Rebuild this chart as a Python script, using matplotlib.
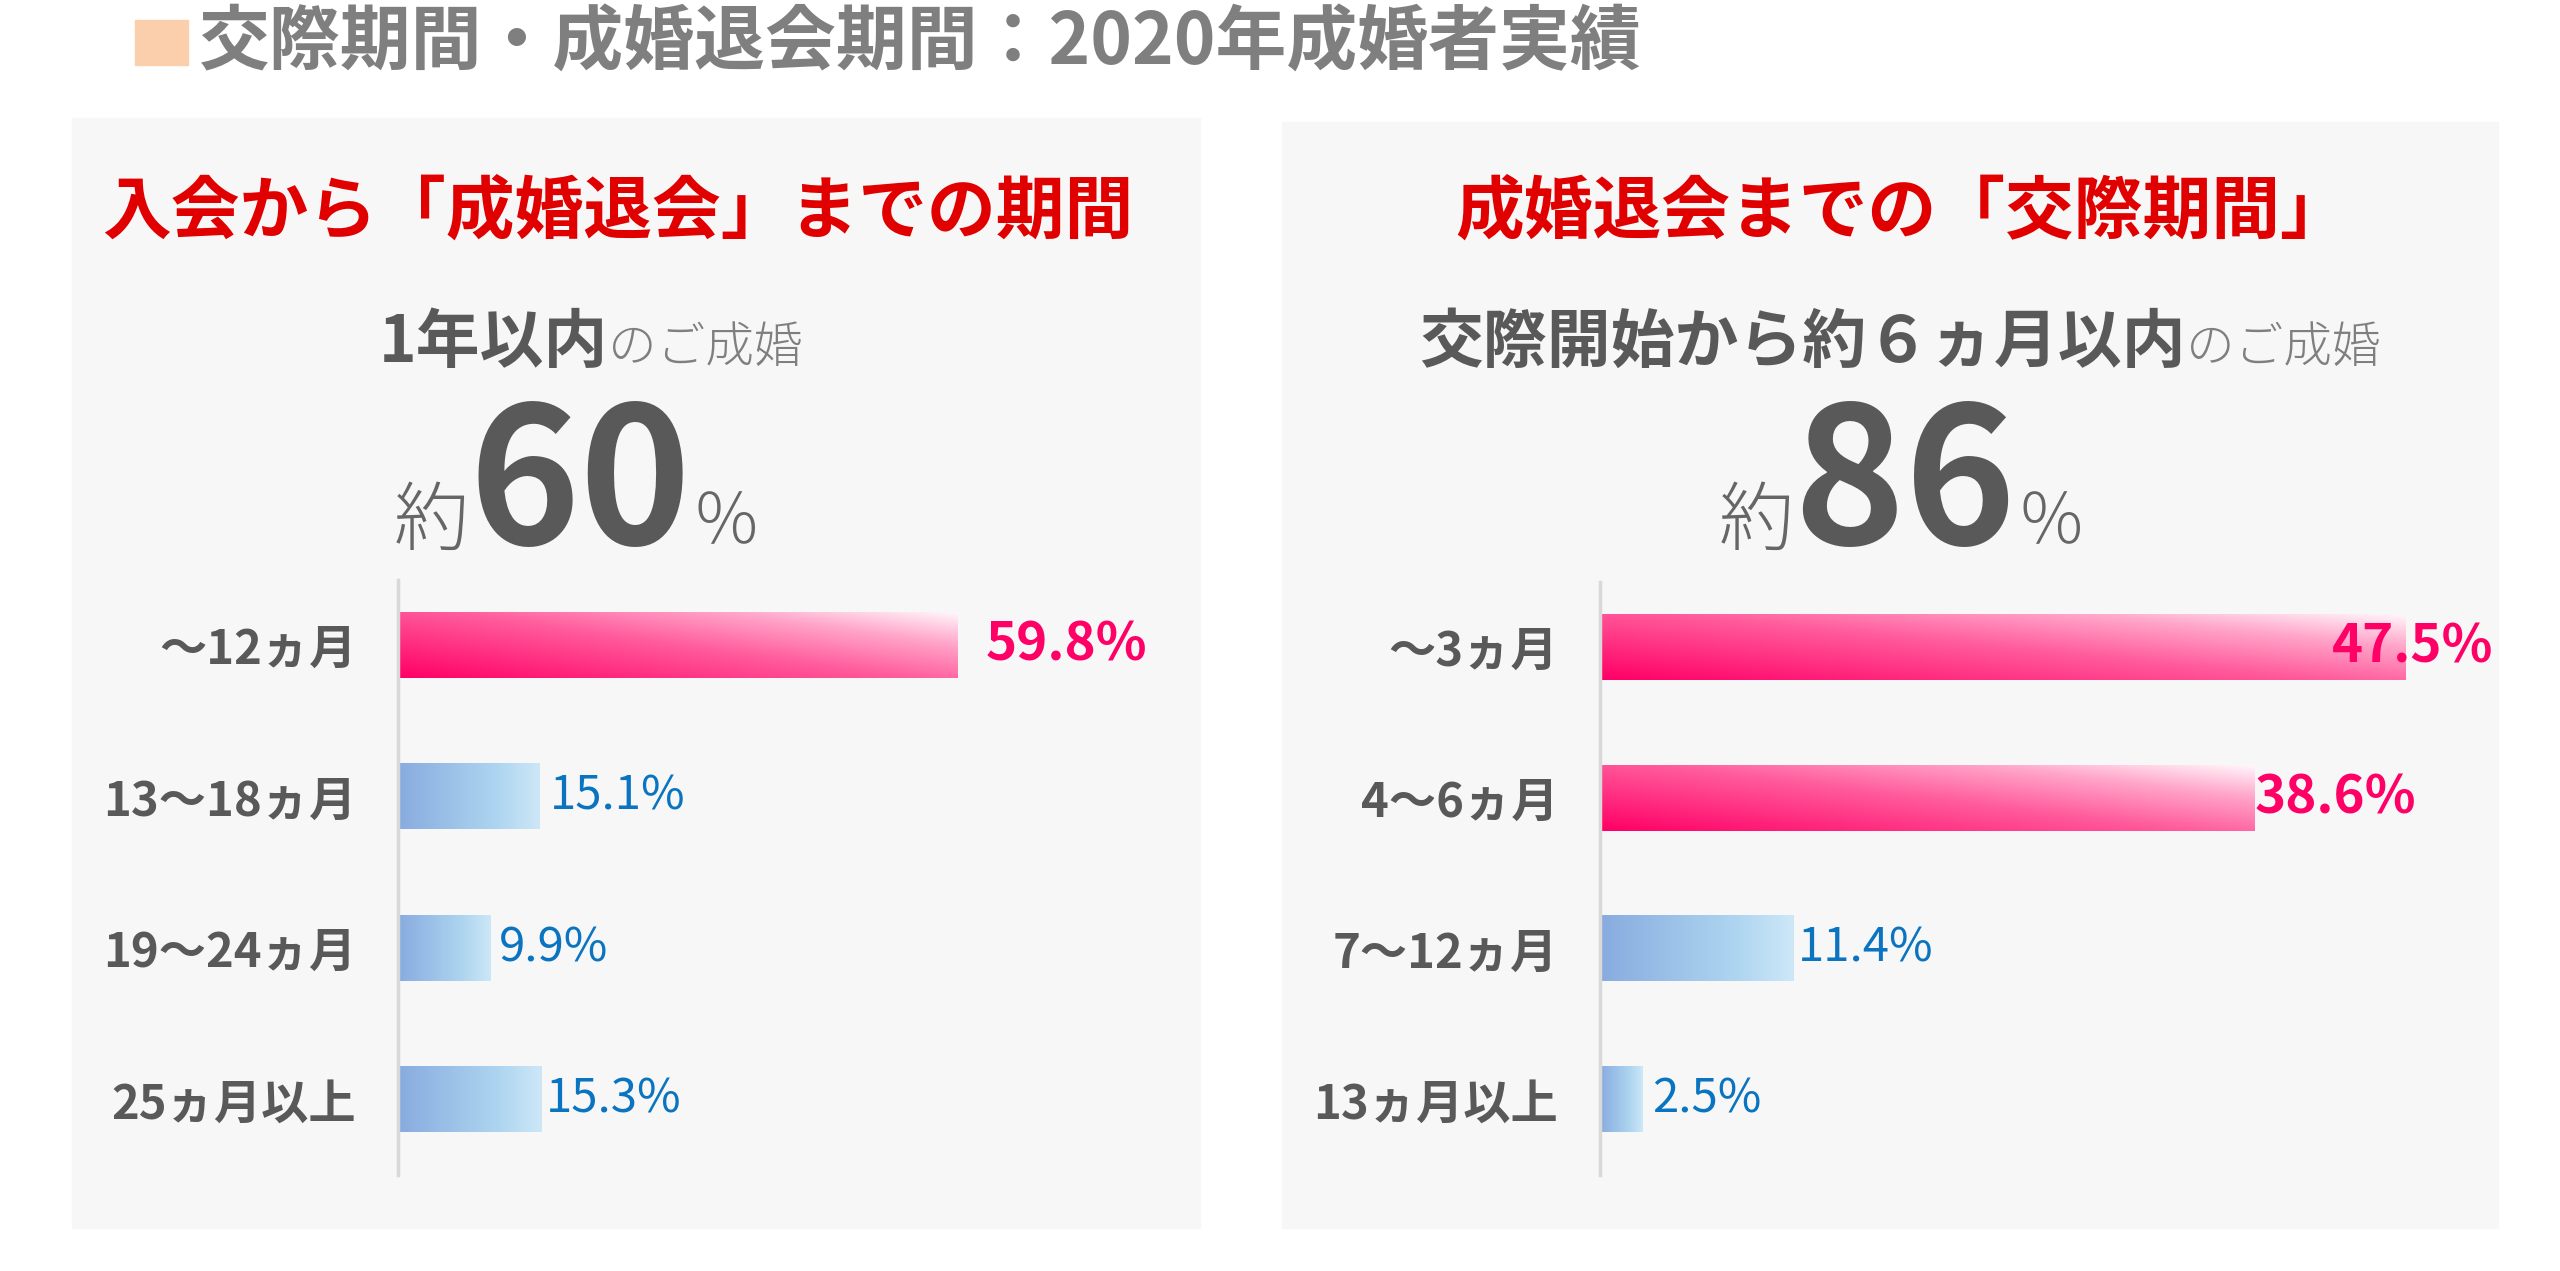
import matplotlib.pyplot as plt
import numpy as np
from matplotlib.colors import LinearSegmentedColormap
from matplotlib.patches import Rectangle

plt.rcParams['font.family'] = ['Noto Sans CJK JP', 'DejaVu Sans']

W, H = 2560, 1271

title = '交際期間・成婚退会期間：2020年成婚者実績'

left_title = '入会から「成婚退会」までの期間'
left_lead = ['1年以内', 'のご成婚']
left_big = ['約', '60', '％']
left_cats = ['～12ヵ月', '13～18ヵ月', '19～24ヵ月', '25ヵ月以上']
left_vals = [59.8, 15.1, 9.9, 15.3]
left_hi = [True, False, False, False]

right_title = '成婚退会までの「交際期間」'
right_lead = ['交際開始から約６ヵ月以内', 'のご成婚']
right_big = ['約', '86', '％']
right_cats = ['～3ヵ月', '4～6ヵ月', '7～12ヵ月', '13ヵ月以上']
right_vals = [47.5, 38.6, 11.4, 2.5]
right_hi = [True, True, False, False]

GRAY = '#595959'
RED = '#e00000'
PINK = '#ff0066'
BLUE = '#0a74c0'

pink_cmap = LinearSegmentedColormap.from_list(
    'pink', [(0, '#ff0066'), (0.5, '#ff5c9c'), (0.78, '#ffa6ca'), (1, '#fff6fa')])
blue_cmap = LinearSegmentedColormap.from_list(
    'blue', [(0, '#88abdf'), (0.7, '#aed5f0'), (1, '#cde7f7')])

fig = plt.figure(figsize=(W / 100, H / 100), dpi=100)
fig.patch.set_facecolor('white')


def px_rect(x0, y0, x1, y1, color):
    fig.patches.append(Rectangle((x0 / W, 1 - y1 / H), (x1 - x0) / W, (y1 - y0) / H,
                                 transform=fig.transFigure, color=color, zorder=-5))


def place_row(parts, cx, yb):
    texts = [fig.text(0, 1 - yb / H, s, va='baseline', ha='left', **kw) for s, kw in parts]
    r = fig.canvas.get_renderer()
    widths = [t.get_window_extent(r).width for t in texts]
    x = cx - sum(widths) / 2
    for t, w in zip(texts, widths):
        t.set_x(x / W)
        x += w


def grad_bar(ax, v, y, h, hi):
    n, m = 256, 64
    X, R = np.meshgrid(np.linspace(0, 1, n), np.linspace(0, 1, m))
    if hi:
        t = 0.55 * X + 0.45 * (1 - R)
        img = pink_cmap(t)
    else:
        img = blue_cmap(X)
    ax.imshow(img, extent=(0, v, y + h / 2, y - h / 2), origin='upper',
              aspect='auto', interpolation='bilinear', zorder=2)


def draw_panel(box, ax_box, xmax, ttl, lead, big, cats, vals, hi, offs, centers):
    cx_t, cx_l, cx_b = centers
    px_rect(*box, '#f7f7f7')
    fig.text(cx_t / W, 1 - 212 / H, ttl, ha='center', va='center',
             fontsize=49.5, fontweight='bold', color=RED)
    place_row([(lead[0], dict(fontsize=46, fontweight='bold', color=GRAY)),
               (lead[1], dict(fontsize=35, fontweight='light', color='#7f7f7f'))],
              cx_l, 362)
    place_row([(big[0], dict(fontsize=54, fontweight='light', color='#666666')),
               (big[1], dict(fontsize=136, fontweight='bold', color=GRAY)),
               (big[2], dict(fontsize=50, fontweight='light', color='#666666'))],
              cx_b, 544)

    x0, y0, x1, y1 = ax_box
    ax = fig.add_axes([x0 / W, 1 - y1 / H, (x1 - x0) / W, (y1 - y0) / H])
    ax.patch.set_alpha(0)
    h = 0.435
    for i, (v, c) in enumerate(zip(vals, hi)):
        grad_bar(ax, v, i, h, c)
        if c:
            kw = dict(fontsize=38, fontweight='bold', color=PINK)
        else:
            kw = dict(fontsize=34, color=BLUE)
        ax.annotate(f'{v}%', (v, i), xytext=(offs[i], 0), textcoords='offset pixels',
                    ha='left', va='center', **kw)
    ax.set_xlim(0, xmax)
    ax.set_ylim(3.5, -0.43)
    ax.set_xticks([])
    ax.set_yticks(range(len(cats)))
    ax.set_yticklabels(cats, fontsize=34, fontweight='bold', color=GRAY)
    ax.tick_params(axis='y', length=0, pad=30)
    for s in ['top', 'right', 'bottom']:
        ax.spines[s].set_visible(False)
    ax.spines['left'].set_color('#d9d9d9')
    ax.spines['left'].set_linewidth(2.5)
    return ax


# header
px_rect(135, 20, 188, 65, '#fccfac')
fig.text(199 / W, 1 - 44 / H, title, ha='left', va='center',
         fontsize=51, fontweight='bold', color='#7f7f7f')

draw_panel((72, 118, 1200, 1228), (398, 580, 1190, 1175), 792 / 9.36,
           left_title, left_lead, left_big, left_cats, left_vals, left_hi,
           [28, 11, 8, 5], (618, 591, 577))
draw_panel((1282, 122, 2498, 1228), (1600, 582, 2490, 1175), 890 / 16.96,
           right_title, right_lead, right_big, right_cats, right_vals, right_hi,
           [-74, 0, 5, 10], (1902, 1900, 1902))

fig.savefig('out.png', dpi=100, facecolor='white')
